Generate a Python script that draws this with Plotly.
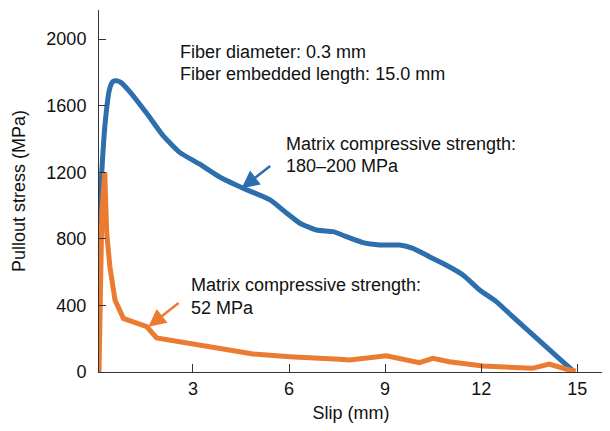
import plotly.graph_objects as go

# Blue: matrix compressive strength 180-200 MPa
slip_hi = [0.08, 0.16, 0.27, 0.40, 0.50, 0.62, 0.75, 1.04, 1.56, 2.07, 2.60, 3.20, 3.85, 4.57,
           5.41, 5.93, 6.34, 6.86, 7.38, 7.79, 8.31, 8.83, 9.45, 9.87, 10.38, 10.90,
           11.43, 11.95, 12.47, 12.98, 13.50, 14.02, 14.54, 14.88]
stress_hi = [880, 1213, 1513, 1700, 1745, 1750, 1740, 1682, 1554, 1420, 1318, 1250, 1170, 1104,
             1034, 954, 894, 853, 843, 813, 777, 763, 763, 743, 693, 643,
             583, 493, 423, 333, 242, 152, 62, 5]

# Orange: matrix compressive strength 52 MPa
slip_lo = [0.07, 0.12, 0.16, 0.25, 0.31, 0.41, 0.57, 0.83, 1.56, 1.87, 2.90, 3.94, 4.88,
           6.02, 6.34, 7.58, 7.89, 9.04, 10.07, 10.49, 11.00, 12.05, 13.60, 14.12, 14.64, 14.95]
stress_lo = [0, 800, 960, 1200, 835, 632, 432, 322, 272, 205, 172, 132, 108,
             92, 90, 76, 72, 98, 56, 82, 62, 36, 22, 48, 18, 5]

x_ticks = [3, 6, 9, 12, 15]
y_ticks = [0, 400, 800, 1200, 1600, 2000]

BLUE = "#2d6eac"
ORANGE = "#ec7b32"
FONT = "Liberation Sans, Arial, sans-serif"

fig = go.Figure()
fig.add_trace(go.Scatter(x=slip_hi, y=stress_hi, mode="lines",
                         line=dict(color=BLUE, width=5, shape="spline", smoothing=0.5),
                         showlegend=False))
fig.add_trace(go.Scatter(x=slip_lo, y=stress_lo, mode="lines",
                         line=dict(color=ORANGE, width=5),
                         showlegend=False))

txt = dict(family=FONT, size=18, color="#111")
anns = [
    dict(x=2.54, y=1922, text="Fiber diameter: 0.3 mm"),
    dict(x=2.54, y=1790, text="Fiber embedded length: 15.0 mm"),
    dict(x=5.84, y=1369, text="Matrix compressive strength:"),
    dict(x=5.84, y=1240, text="180–200 MPa"),
    dict(x=2.89, y=522, text="Matrix compressive strength:"),
    dict(x=2.89, y=384, text="52 MPa"),
]
for a in anns:
    fig.add_annotation(x=a["x"], y=a["y"], text=a["text"], showarrow=False,
                       xanchor="left", yanchor="middle", font=txt)

fig.add_annotation(x=4.52, y=1104, ax=5.46, ay=1244, axref="x", ayref="y",
                   showarrow=True, arrowhead=2, arrowsize=1.4, arrowwidth=2.5,
                   arrowcolor=BLUE, text="")
fig.add_annotation(x=1.61, y=272, ax=2.60, ay=422, axref="x", ayref="y",
                   showarrow=True, arrowhead=2, arrowsize=1.4, arrowwidth=2.5,
                   arrowcolor=ORANGE, text="")

fig.update_layout(
    width=602, height=423,
    margin=dict(l=91, r=7, t=2, b=59, autoexpand=False),
    paper_bgcolor="white", plot_bgcolor="white",
    font=dict(family=FONT, size=18, color="#111"),
)
fig.update_xaxes(range=[0.07, 15.8], tickvals=x_ticks, ticks="inside", ticklen=8,
                 tickcolor="#333", showline=True, linecolor="#333", linewidth=1,
                 showgrid=False, zeroline=False, tickfont=dict(size=18),
                 ticklabelstandoff=0, automargin=False,
                 title=dict(text="Slip (mm)", font=dict(size=18), standoff=8))
fig.update_yaxes(range=[0, 2175], tickvals=y_ticks, ticks="inside", ticklen=7,
                 tickcolor="#333", showline=True, linecolor="#333", linewidth=1,
                 showgrid=False, zeroline=False, tickfont=dict(size=18),
                 ticklabelstandoff=8, automargin=False,
                 title=dict(text="Pullout stress (MPa)", font=dict(size=18), standoff=16))

fig.write_html("out.html")
